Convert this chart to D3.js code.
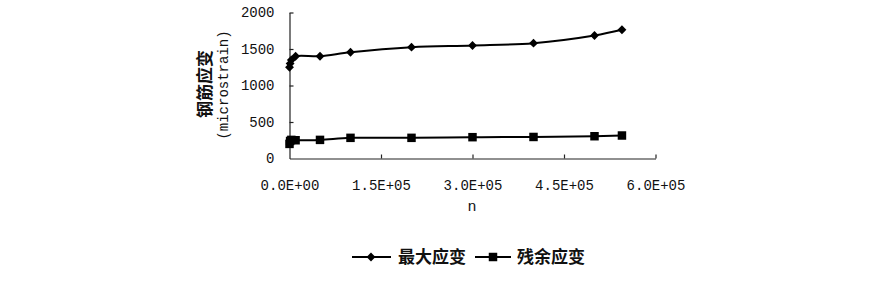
<!DOCTYPE html>
<html><head><meta charset="utf-8">
<script src="https://cdn.jsdelivr.net/npm/d3@7"></script>
<style>body{margin:0;background:#fff}svg{display:block}</style>
</head><body>
<svg id="c" width="893" height="282"></svg>
<script>
const nValues = [0, 1000, 3000, 10000, 50000, 100000, 200000, 300000, 400000, 500000, 545000];
const maxStrain = [1250, 1300, 1350, 1400, 1400, 1455, 1525, 1548, 1580, 1685, 1763];
const resStrain = [200, 240, 255, 250, 255, 283, 283, 292, 295, 305, 315];
const xTicks = [0, 150000, 300000, 450000, 600000];
const xTickLabels = ["0.0E+00", "1.5E+05", "3.0E+05", "4.5E+05", "6.0E+05"];
const yTicks = [0, 500, 1000, 1500, 2000];
const seriesNames = ["最大应变", "残余应变"];
const xTitle = "n";
const yTitle = ["钢筋应变", "(microstrain)"];

const svg = d3.select("#c");
const x = d3.scaleLinear().domain([0, 600000]).range([289.5, 655.5]);
const y = d3.scaleLinear().domain([0, 2000]).range([158.5, 12.5]);
const mono = "'Liberation Mono', 'DejaVu Sans Mono', monospace";
const cjk = "'Noto Sans CJK SC', sans-serif";

const xAxis = svg.append("g").attr("transform", `translate(0,${y(0)})`)
  .call(d3.axisBottom(x).tickValues(xTicks).tickSizeInner(-4).tickSizeOuter(0).tickPadding(22)
    .tickFormat((d, i) => xTickLabels[i]));
const yAxis = svg.append("g").attr("transform", `translate(${x(0)},0)`)
  .call(d3.axisLeft(y).tickValues(yTicks).tickSizeInner(-4).tickSizeOuter(0).tickPadding(15)
    .tickFormat(d3.format("d")));
[xAxis, yAxis].forEach(g => {
  g.select(".domain").attr("stroke", "#222").attr("stroke-width", 1.2);
  g.selectAll(".tick line").attr("stroke", "#222").attr("stroke-width", 1.2);
  g.selectAll(".tick text").attr("fill", "#111").style("font-family", mono).style("font-size", "14px");
});
xAxis.selectAll(".tick").filter(d => d === 0).select("line").remove();
yAxis.selectAll(".tick").filter(d => d === 0).select("line").remove();

svg.append("text").attr("x", 472).attr("y", 211).attr("text-anchor", "middle")
  .style("font-family", mono).style("font-size", "15px").attr("fill", "#111").text(xTitle);
svg.append("text").attr("transform", "translate(211,84) rotate(-90)").attr("text-anchor", "middle")
  .style("font-family", cjk).style("font-weight", "bold").style("font-size", "17px").attr("fill", "#111").text(yTitle[0]);
svg.append("text").attr("transform", "translate(228,85) rotate(-90)").attr("text-anchor", "middle")
  .style("font-family", mono).style("font-size", "14px").attr("fill", "#111").text(yTitle[1]);

const line = d3.line().x(d => x(d[0])).y(d => y(d[1])).curve(d3.curveCatmullRom.alpha(0.5));
const d1 = nValues.map((n, i) => [n, maxStrain[i]]);
const d2 = nValues.map((n, i) => [n, resStrain[i]]);
svg.append("path").attr("d", line(d1)).attr("fill", "none").attr("stroke", "#000").attr("stroke-width", 2);
svg.append("path").attr("d", line(d2)).attr("fill", "none").attr("stroke", "#000").attr("stroke-width", 2);
const diamond = d3.symbol().type(d3.symbolDiamond2).size(50);
const square = d3.symbol().type(d3.symbolSquare).size(72);
svg.append("g").selectAll("path").data(d1).join("path")
  .attr("transform", d => `translate(${x(d[0])},${y(d[1])})`).attr("d", diamond).attr("fill", "#000");
svg.append("g").selectAll("path").data(d2).join("path")
  .attr("transform", d => `translate(${x(d[0])},${y(d[1])})`).attr("d", square).attr("fill", "#000");

// legend
const lg = svg.append("g");
lg.append("line").attr("x1", 352).attr("x2", 391).attr("y1", 257).attr("y2", 257).attr("stroke", "#000").attr("stroke-width", 2);
lg.append("path").attr("transform", "translate(371,257)").attr("d", diamond).attr("fill", "#000");
lg.append("text").attr("x", 398).attr("y", 263).style("font-family", cjk).style("font-weight", "bold")
  .style("font-size", "17px").attr("fill", "#111").text(seriesNames[0]);
lg.append("line").attr("x1", 475).attr("x2", 511).attr("y1", 257).attr("y2", 257).attr("stroke", "#000").attr("stroke-width", 2);
lg.append("path").attr("transform", "translate(493,257)").attr("d", square).attr("fill", "#000");
lg.append("text").attr("x", 517).attr("y", 263).style("font-family", cjk).style("font-weight", "bold")
  .style("font-size", "17px").attr("fill", "#111").text(seriesNames[1]);
</script>
</body></html>
